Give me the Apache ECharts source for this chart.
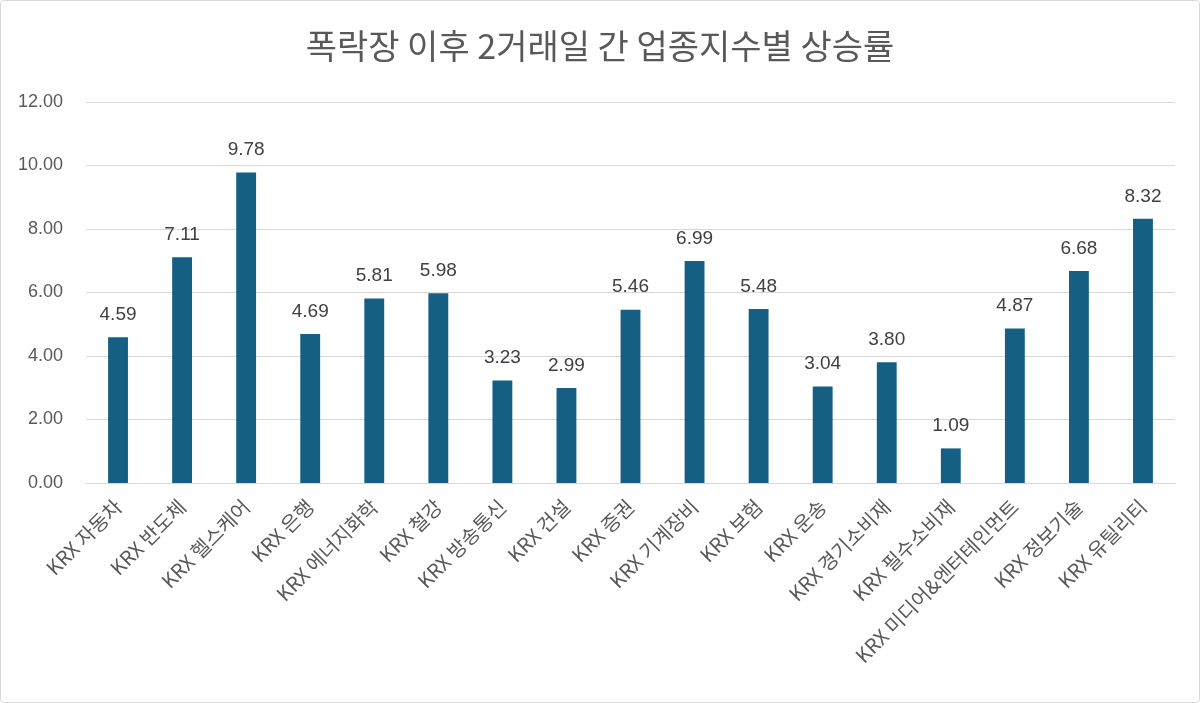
<!DOCTYPE html>
<html>
<head>
<meta charset="utf-8">
<script src="https://cdn.jsdelivr.net/npm/echarts@6/dist/echarts.min.js"></script>
<style>
html,body{margin:0;padding:0;background:#fff;}
#frame{position:absolute;left:0;top:0;width:1198px;height:701px;border:1px solid #d9d9d9;border-radius:4px;}
#chart{width:1200px;height:703px;}
</style>
</head>
<body>
<div id="chart"></div>
<div id="frame"></div>
<script>
const titleText = '폭락장 이후 2거래일 간 업종지수별 상승률';
const categories = ['KRX 자동차','KRX 반도체','KRX 헬스케어','KRX 은행','KRX 에너지화학','KRX 철강','KRX 방송통신','KRX 건설','KRX 증권','KRX 기계장비','KRX 보험','KRX 운송','KRX 경기소비재','KRX 필수소비재','KRX 미디어&엔터테인먼트','KRX 정보기술','KRX 유틸리티'];
const values = [4.59,7.11,9.78,4.69,5.81,5.98,3.23,2.99,5.46,6.99,5.48,3.04,3.80,1.09,4.87,6.68,8.32];
const yMin = 0, yMax = 12, yStep = 2;

const font = '"Noto Sans CJK KR", "Liberation Sans", sans-serif';
const chart = echarts.init(document.getElementById('chart'));
chart.setOption({
  animation:false,
  backgroundColor:'#fff',
  title:{text:titleText,left:'center',top:24,textStyle:{fontFamily:font,fontSize:34,fontWeight:'normal',color:'#595959'}},
  grid:{left:86,right:25,top:102,bottom:220,containLabel:false},
  xAxis:{type:'category',data:categories,
    axisLine:{lineStyle:{color:'#d9d9d9',width:1}},
    axisTick:{show:false},
    axisLabel:{rotate:45,interval:0,margin:20,fontFamily:font,fontSize:20,color:'#595959'}},
  yAxis:{type:'value',min:yMin,max:yMax,interval:yStep,
    axisLine:{show:false},axisTick:{show:false},
    splitLine:{lineStyle:{color:'#d9d9d9',width:1}},
    axisLabel:{margin:23,fontFamily:'"Liberation Sans", Arial, sans-serif',fontSize:18,color:'#595959',formatter:v=>v.toFixed(2)}},
  series:[{type:'bar',data:values,barWidth:'31%',itemStyle:{color:'#156082'},
    label:{show:true,position:'top',distance:13,fontFamily:'"Liberation Sans", Arial, sans-serif',fontSize:19,color:'#404040',formatter:p=>p.value.toFixed(2)}}]
});
</script>
</body>
</html>
